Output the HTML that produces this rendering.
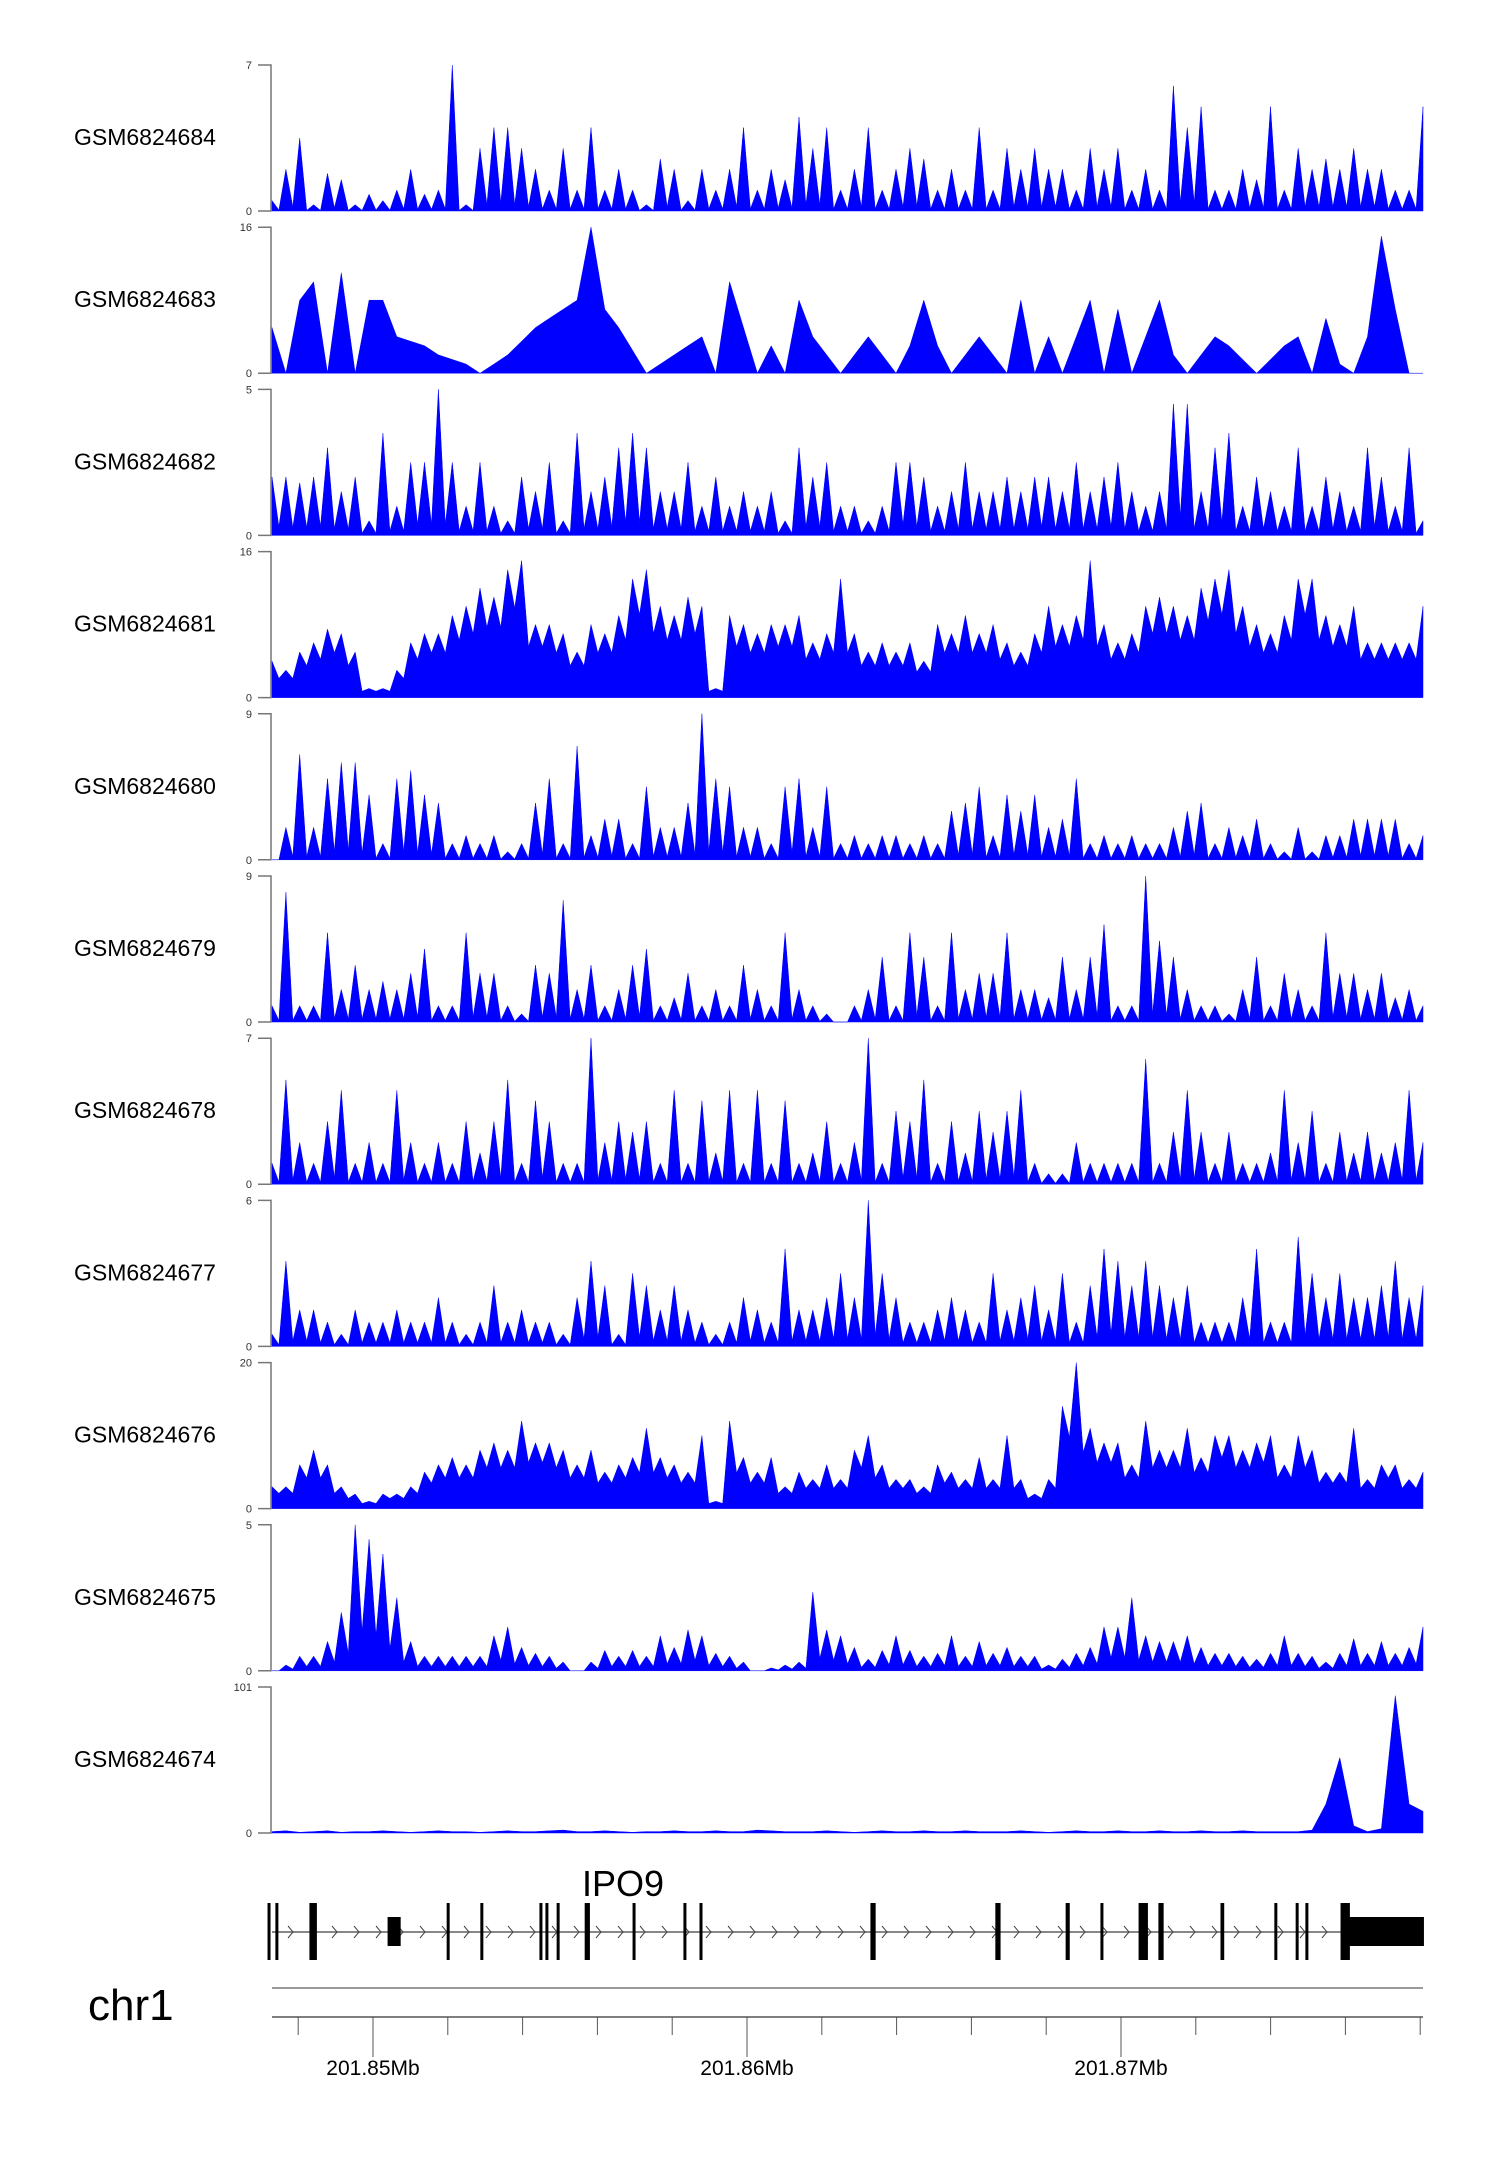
<!DOCTYPE html>
<html><head><meta charset="utf-8"><style>
html,body{margin:0;padding:0;background:#fff;}
svg{display:block;font-family:"Liberation Sans",sans-serif;}
</style></head><body>
<svg id="chart" width="1500" height="2170" viewBox="0 0 1500 2170" xmlns="http://www.w3.org/2000/svg"></svg>
<script>
const sampleNames = ["GSM6824684","GSM6824683","GSM6824682","GSM6824681","GSM6824680","GSM6824679","GSM6824678","GSM6824677","GSM6824676","GSM6824675","GSM6824674"];
const yMaxLabels = [7,16,5,16,9,9,7,6,20,5,101];
const t1 = [0.5,2,3.5,0.3,1.8,1.5,0.3,0.8,0.5,1,2,0.8,1,7,0.3,3,4,4,3,2,1,3,1,4,1,2,1,0.3,2.5,2,0.5,2,1,2,4,1,2,1.5,4.5,3,4,1,2,4,1,2,3,2.5,1,2,1,4,1,3,2,3,2,2,1,3,2,3,1,2,1,6,4,5,1,1,2,1.5,5,1,3,2,2.5,2,3,2,2,1,1,5];
const t2 = [5,0,8,10,0,11,0,8,8,4,3.5,3,2,1.5,1,0,1,2,3.5,5,6,7,8,16,7,5,2.5,0,1,2,3,4,0,10,5,0,3,0,8,4,2,0,2,4,2,0,3,8,3,0,2,4,2,0,8,0,4,0,4,8,0,7,0,4,8,2,0,2,4,3,1.5,0,1.5,3,4,0,6,1,0,4,15,7,0,0];
const t3 = [2,2,1.8,2,3,1.5,2,0.5,3.5,1,2.5,2.5,5,2.5,1,2.5,1,0.5,2,1.5,2.5,0.5,3.5,1.5,2,3,3.5,3,1.5,1.5,2.5,1,2,1,1.5,1,1.5,0.5,3,2,2.5,1,1,0.5,1,2.5,2.5,2,1,1.5,2.5,1.5,1.5,2,1.5,2,2,1.5,2.5,1.5,2,2.5,1.5,1,1.5,4.5,4.5,1.5,3,3.5,1,2,1.5,1,3,1,2,1.5,1,3,2,1,3,0.5];
const t4 = [4,3,5,6,7.5,7,5,1,1,3,6,7,7,9,10,12,11,14,15,8,8,7,5,8,7,9,13,14,10,9,11,10,1,9,8,7,8,8,9,6,7,13,7,5,6,5,6,4,8,7,9,7,8,6,5,7,10,8,9,15,8,6,7,10,11,10,9,12,13,14,10,8,7,9,13,13,9,8,10,6,6,6,6,10];
const t5 = [0,2,6.5,2,5,6,6,4,1,5,5.5,4,3.5,1,1.5,1,1.5,0.5,1,3.5,5,1,7,1.5,2.5,2.5,1,4.5,2,2,3.5,9,5,4.5,2,2,1,4.5,5,2,4.5,1,1.5,1,1.5,1.5,1,1.5,1,3,3.5,4.5,1.5,4,3,4,2,2.5,5,1,1.5,1,1.5,1,1,2,3,3.5,1,2,1.5,2.5,1,0.5,2,0.5,1.5,1.5,2.5,2.5,2.5,2.5,1,1.5];
const t6 = [1,8,1,1,5.5,2,3.5,2,2.5,2,3,4.5,1,1,5.5,3,3,1,0.5,3.5,3,7.5,2,3.5,1,2,3.5,4.5,1,1.5,3,1,2,1,3.5,2,1,5.5,2,1,0.5,0,1,2,4,1,5.5,4,1,5.5,2,3,3,5.5,2,2,1.5,4,2,4,6,1,1,9,5,4,2,1,1,0.5,2,4,1,3,2,1,5.5,3,3,2,3,1.5,2,1];
const t7 = [1,5,2,1,3,4.5,1,2,1,4.5,2,1,2,1,3,1.5,3,5,1,4,3,1,1,7,2,3,2.5,3,1,4.5,1,4,1.5,4.5,1,4.5,1,4,1,1.5,3,1,2,7,1,3.5,3,5,1,3,1.5,3.5,2.5,3.5,4.5,1,0.5,0.5,2,1,1,1,1,6,1,2.5,4.5,2.5,1,2.5,1,1,1.5,4.5,2,3.5,1,2.5,1.5,2.5,1.5,2,4.5,2];
const t8 = [0.5,3.5,1.5,1.5,1,0.5,1.5,1,1,1.5,1,1,2,1,0.5,1,2.5,1,1.5,1,1,0.5,2,3.5,2.5,0.5,3,2.5,1.5,2.5,1.5,1,0.5,1,2,1.5,1,4,1.5,1.5,2,3,2,6,3,2,1,1,1.5,2,1.5,1,3,1.5,2,2.5,1.5,3,1,2.5,4,3.5,2.5,3.5,2.5,2,2.5,1,1,1,2,4,1,1,4.5,3,2,3,2,2,2.5,3.5,2,2.5];
const t9 = [3,3,6,8,6,3,2,1,2,2,3,5,6,7,6,8,9,8,12,9,9,8,6,8,5,6,7,11,7,6,5,10,1,12,7,5,7,3,5,4,6,4,8,10,6,4,4,3,6,5,4,7,4,10,4,2,4,14,20,11,9,9,6,12,8,8,11,7,10,10,8,9,10,6,10,8,5,5,11,4,6,6,4,5];
const t10 = [0,0.2,0.5,0.5,1,2,5,4.5,4,2.5,1,0.5,0.5,0.5,0.5,0.5,1.2,1.5,0.8,0.6,0.5,0.3,0,0.3,0.7,0.5,0.7,0.5,1.2,0.8,1.4,1.2,0.6,0.5,0.3,0,0.1,0.2,0.3,2.7,1.4,1.2,0.8,0.4,0.7,1.2,0.7,0.5,0.6,1.2,0.5,1,0.6,0.8,0.5,0.5,0.2,0.4,0.6,0.8,1.5,1.5,2.5,1.2,1,1,1.2,0.8,0.6,0.6,0.5,0.4,0.6,1.2,0.6,0.5,0.3,0.6,1.1,0.6,1,0.6,0.8,1.5];
const t11 = [1,1.5,0.5,1,1.5,0.5,1,1,1.5,1,0.5,1,1.5,1,1,0.5,1,1.5,1,1,1.5,2,1,1,1.5,1,0.5,1,1,1.5,1,1,1.5,1,1,2,1.5,1,1,1,1.5,1,0.5,1,1.5,1,1,1.5,1,1,1.5,1,1,1,1.5,1,0.5,1,1.5,1,1,1.5,1,1,1.5,1,1,1.5,1,1,1.5,1,1,1,1,2,20,52,5,1,3,95,20,15];
const seriesValues = [t1,t2,t3,t4,t5,t6,t7,t8,t9,t10,t11];
const exonStarts = [201.84718,201.84739,201.84830,201.85039,201.85197,201.85287,201.85445,201.85461,201.85491,201.85566,201.85694,201.85830,201.85873,201.86330,201.86664,201.86852,201.86945,201.87047,201.87100,201.87266,201.87410,201.87467,201.87493,201.87587,201.87603];
const exonWidths = [0.00006,0.00006,0.00020,0.00035,0.00006,0.00006,0.00006,0.00006,0.00006,0.00014,0.00006,0.00006,0.00006,0.00014,0.00014,0.00011,0.00008,0.00025,0.00014,0.00010,0.00008,0.00006,0.00006,0.00025,0.00207];
const exonHalf = [0,0,0,1,0,0,0,0,0,0,0,0,0,0,0,0,0,0,0,0,0,0,0,0,1];
const axisTicks = [201.848,201.850,201.852,201.854,201.856,201.858,201.860,201.862,201.864,201.866,201.868,201.870,201.872,201.874,201.876,201.878];
const axisMajor = [201.85,201.86,201.87];
const axisMajorLabels = ["201.85Mb","201.86Mb","201.87Mb"];

const NS="http://www.w3.org/2000/svg";
const svg=document.getElementById('chart');
const X0=272, X1=1423;
function gx(p){return 373+(p-201.85)*37400;}
function mk(tag,attrs,parent){const e=document.createElementNS(NS,tag);for(const k in attrs)e.setAttribute(k,attrs[k]);(parent||svg).appendChild(e);return e;}
const valleyF=[0.1,1,0.15,0.7,0.1,0.1,0.1,0.15,0.7,0.3,1];
for(let t=0;t<11;t++){
  const top=65+162.2*t, base=211+162.2*t, h=base-top;
  const g=mk('g',{});
  
  
  const lab=mk('text',{x:74,y:top+80,'font-size':23,fill:'#000'},g);
  lab.textContent=sampleNames[t];
  
  
  const ax=mk('path',{d:`M258 ${top}H271V${base}H258`,stroke:'#777','stroke-width':1.5,fill:'none'},g);
  
  
  const tm=mk('text',{x:252,y:top+4,'font-size':11,'text-anchor':'end',fill:'#333'},g);
  tm.textContent=yMaxLabels[t];
  
  
  const t0=mk('text',{x:252,y:base+4,'font-size':11,'text-anchor':'end',fill:'#333'},g);
  t0.textContent='0';
  
  
  const vals=seriesValues[t], n=vals.length, max=yMaxLabels[t];
  const xs=i=>X0+i*(X1-X0)/(n-1);
  const ys=v=>base-Math.min(v,max)/max*h;
  let d=`M${X0} ${base}`;
  for(let i=0;i<n;i++){
    d+=` L${xs(i).toFixed(1)} ${ys(vals[i]).toFixed(1)}`;
    if(i<n-1 && valleyF[t]<1){
      const v=Math.min(vals[i],vals[i+1])*valleyF[t];
      d+=` L${((xs(i)+xs(i+1))/2).toFixed(1)} ${ys(v).toFixed(1)}`;
    }
  }
  d+=` L${X1} ${base} Z`;
  const area=mk('path',{d:d,fill:'#0000ff',stroke:'#0000ff','stroke-width':0.5},g);
  
  
}
// gene model
const gene=mk('g',{});


const gl=mk('line',{x1:X0,x2:1346,y1:1932,y2:1932,stroke:'#888','stroke-width':2},gene);


for(let x=288;x<1340;x+=22){
  const a=mk('path',{d:`M${x} 1926L${x+5} 1932L${x} 1938`,stroke:'#444','stroke-width':1,fill:'none'},gene);
  
  
}
for(let i=0;i<exonStarts.length;i++){
  const x=gx(exonStarts[i]), w=Math.max(3,exonWidths[i]*37400);
  const half=exonHalf[i];
  const r=mk('rect',{x:x,y:half?1917:1903,width:w,height:half?29:57,fill:'#000'},gene);
  
  
}
const gname=mk('text',{x:582,y:1896,'font-size':36,fill:'#000'},gene);
gname.textContent='IPO9';


// chromosome + axis
const chr=mk('text',{x:88,y:2020,'font-size':44,fill:'#000'});
chr.textContent='chr1';


const ideo=mk('line',{x1:X0,x2:X1,y1:1988,y2:1988,stroke:'#999','stroke-width':2});


const xa=mk('line',{x1:X0,x2:X1,y1:2017,y2:2017,stroke:'#555','stroke-width':1.5});


for(const p of axisTicks){
  const x=gx(p);
  const tk=mk('line',{x1:x,x2:x,y1:2017,y2:2035,stroke:'#555','stroke-width':1});
  
  
}
axisMajor.forEach((p,i)=>{
  const x=gx(p);
  const tk=mk('line',{x1:x,x2:x,y1:2017,y2:2057,stroke:'#555','stroke-width':1});
  
  
  const tl=mk('text',{x:x,y:2075,'font-size':21,'text-anchor':'middle',fill:'#000'});
  tl.textContent=axisMajorLabels[i];
  
  
});
</script>
</body></html>
